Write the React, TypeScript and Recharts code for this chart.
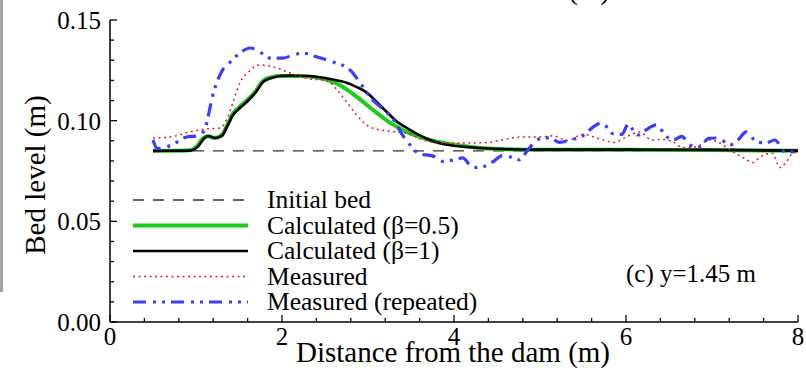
import React from "react";
import { CartesianGrid, Customized, Line, LineChart, XAxis, YAxis } from "recharts";

const FONT = "Liberation Serif, DejaVu Serif, serif";

// tick positions (major ones get a label)
const xTicks = [0, 0.4, 0.8, 1.2, 1.6, 2, 2.4, 2.8, 3.2, 3.6, 4, 4.4, 4.8, 5.2, 5.6, 6, 6.4, 6.8, 7.2, 7.6, 8];
const xMajor = [0, 2, 4, 6, 8];
const yTicks = [0, 0.01, 0.02, 0.03, 0.04, 0.05, 0.06, 0.07, 0.08, 0.09, 0.1, 0.11, 0.12, 0.13, 0.14, 0.15];
const yMajor = [0, 0.05, 0.1, 0.15];

// initial bed
const bedX = [0.5, 8];
const bedY = [0.085, 0.085];

// calculated, beta = 0.5
const calcHalfX = [0.5, 0.9, 1.0, 1.08, 1.14, 1.22, 1.3, 1.36, 1.43, 1.51, 1.59, 1.69, 1.78, 1.88, 1.98, 2.1, 2.3, 2.5, 2.67, 2.87, 3.06, 3.26, 3.45, 3.72, 4.03, 4.4, 5.0, 6.0, 7.0, 8.0];
const calcHalfY = [0.085, 0.0852, 0.0868, 0.0912, 0.0922, 0.0914, 0.0928, 0.0975, 0.1035, 0.107, 0.11, 0.1145, 0.1198, 0.1216, 0.1222, 0.1222, 0.122, 0.1205, 0.1177, 0.1118, 0.1053, 0.0989, 0.0944, 0.0904, 0.0879, 0.0862, 0.0855, 0.0855, 0.0854, 0.0851];

// calculated, beta = 1
const calcOneX = [0.5, 0.93, 1.02, 1.1, 1.14, 1.22, 1.3, 1.36, 1.43, 1.51, 1.59, 1.69, 1.78, 1.88, 1.98, 2.1, 2.3, 2.56, 2.76, 2.87, 2.99, 3.1, 3.22, 3.34, 3.45, 3.57, 3.72, 3.87, 4.03, 4.4, 5.0, 6.0, 7.0, 8.0];
const calcOneY = [0.085, 0.0851, 0.087, 0.0914, 0.0924, 0.0914, 0.0924, 0.0969, 0.1028, 0.1063, 0.1093, 0.1138, 0.1192, 0.1212, 0.1222, 0.1224, 0.1222, 0.1207, 0.1187, 0.1167, 0.1138, 0.1093, 0.1043, 0.0994, 0.0964, 0.0934, 0.0904, 0.0884, 0.0874, 0.0862, 0.0856, 0.0856, 0.0855, 0.0851];

// measured
const measX = [0.5, 0.7, 0.93, 1.12, 1.28, 1.37, 1.45, 1.51, 1.61, 1.74, 1.9, 2.09, 2.33, 2.52, 2.64, 2.76, 2.87, 3.02, 3.22, 3.45, 3.64, 3.87, 4.15, 4.38, 4.55, 4.78, 5.0, 5.15, 5.32, 5.5, 5.7, 5.86, 6.03, 6.16, 6.3, 6.45, 6.55, 6.66, 6.83, 6.96, 7.09, 7.21, 7.36, 7.48, 7.56, 7.7, 7.79, 7.87, 7.95, 8.0];
const measY = [0.0914, 0.0919, 0.0944, 0.0959, 0.0964, 0.1018, 0.1118, 0.1187, 0.1242, 0.1277, 0.1267, 0.1238, 0.1207, 0.12, 0.1153, 0.1088, 0.1028, 0.0969, 0.0949, 0.0939, 0.0904, 0.0889, 0.0889, 0.0891, 0.0904, 0.0919, 0.0919, 0.0925, 0.0902, 0.0932, 0.0908, 0.0892, 0.0925, 0.0944, 0.0904, 0.0906, 0.0894, 0.0866, 0.0872, 0.0904, 0.0889, 0.0854, 0.0817, 0.0792, 0.082, 0.0838, 0.0767, 0.0798, 0.0843, 0.083];

// measured, repeated run
const repX = [0.5, 0.55, 0.66, 0.78, 0.89, 1.01, 1.1, 1.14, 1.19, 1.24, 1.31, 1.4, 1.51, 1.63, 1.71, 1.86, 2.01, 2.13, 2.24, 2.41, 2.59, 2.79, 2.91, 3.02, 3.17, 3.3, 3.4, 3.49, 3.6, 3.75, 3.87, 4.0, 4.1, 4.22, 4.34, 4.45, 4.57, 4.69, 4.76, 4.85, 4.92, 5.03, 5.12, 5.23, 5.35, 5.5, 5.62, 5.72, 5.85, 5.95, 6.03, 6.08, 6.14, 6.26, 6.36, 6.45, 6.55, 6.65, 6.74, 6.86, 6.96, 7.07, 7.21, 7.3, 7.4, 7.52, 7.63, 7.73, 7.85, 7.93, 8.0];
const repY = [0.0904, 0.0862, 0.087, 0.0894, 0.0919, 0.0924, 0.0954, 0.1018, 0.1118, 0.1187, 0.1252, 0.1292, 0.1336, 0.1361, 0.1351, 0.1311, 0.1311, 0.1326, 0.1336, 0.1316, 0.1292, 0.1252, 0.1187, 0.1118, 0.1058, 0.1003, 0.0929, 0.0879, 0.0835, 0.0825, 0.0798, 0.0805, 0.0815, 0.0767, 0.0772, 0.0795, 0.0828, 0.0815, 0.0805, 0.085, 0.0885, 0.0915, 0.0914, 0.0892, 0.0904, 0.0925, 0.0969, 0.0989, 0.0935, 0.0932, 0.0985, 0.0955, 0.0929, 0.0962, 0.098, 0.093, 0.0904, 0.0922, 0.0879, 0.0869, 0.0912, 0.0914, 0.0879, 0.0904, 0.0944, 0.0894, 0.089, 0.0904, 0.0845, 0.0845, 0.0848];

const toPoints = (xs: number[], ys: number[]) => xs.map((x, i) => ({ x, y: ys[i] }));

const isMajor = (list: number[], v: number) => list.some((m) => Math.abs(m - v) < 1e-6);

const series = [
  { name: "Initial bed", data: toPoints(bedX, bedY), stroke: "#333", width: 1.3, dash: "11 9" },
  { name: "Calculated (β=0.5)", data: toPoints(calcHalfX, calcHalfY), stroke: "#1ecc1e", width: 4, dash: undefined },
  { name: "Calculated (β=1)", data: toPoints(calcOneX, calcOneY), stroke: "#000", width: 2.6, dash: undefined },
  { name: "Measured", data: toPoints(measX, measY), stroke: "#e02020", width: 1.5, dash: "2 3.5" },
  { name: "Measured (repeated)", data: toPoints(repX, repY), stroke: "#3a3cff", width: 3.2, dash: "13 7 3 6 3 6" },
];

function XTick({ x, y, payload }: any) {
  const major = isMajor(xMajor, payload.value);
  return (
    <g>
      <line x1={x} x2={x} y1={y} y2={y - (major ? 7 : 4)} stroke="#000" strokeWidth={1.3} />
      {major && (
        <text x={x} y={y + 23} textAnchor="middle" style={{ fontFamily: FONT }} fontSize={25} fill="#000">
          {payload.value}
        </text>
      )}
    </g>
  );
}

function YTick({ x, y, payload }: any) {
  const major = isMajor(yMajor, payload.value);
  return (
    <g>
      <line x1={x} x2={x + (major ? 7 : 4)} y1={y} y2={y} stroke="#000" strokeWidth={1.3} />
      {major && (
        <text x={x - 9} y={y + 9} textAnchor="end" style={{ fontFamily: FONT }} fontSize={25} fill="#000">
          {payload.value.toFixed(2)}
        </text>
      )}
    </g>
  );
}

// legend, axis titles and panel note drawn straight into the svg
function Annotations() {
  const rowY = [200, 225.5, 251, 276.5, 302];
  return (
    <g style={{ fontFamily: FONT }} fill="#000">
      <rect x={0} y={0} width={3} height={292} fill="#a4a4a4" />
      <text x={453} y={-1} textAnchor="middle" fontSize={29}>
        Distance from the dam (m)
      </text>
      <text x={453} y={362} textAnchor="middle" fontSize={29}>
        Distance from the dam (m)
      </text>
      <text transform="translate(45,175) rotate(-90)" textAnchor="middle" fontSize={29}>
        Bed level (m)
      </text>
      <text x={626} y={282} fontSize={25}>
        (c) y=1.45 m
      </text>
      {series.map((s, i) => (
        <g key={s.name}>
          <line
            x1={133}
            x2={248}
            y1={rowY[i]}
            y2={rowY[i]}
            stroke={s.stroke}
            strokeWidth={s.width}
            strokeDasharray={s.dash}
          />
          <text x={267} y={rowY[i] + 8} fontSize={25.5}>
            {s.name}
          </text>
        </g>
      ))}
    </g>
  );
}

export default function App() {
  return (
    <div style={{ position: "absolute", left: 0, top: 0, width: 806, height: 371, background: "#fff" }}>
      <LineChart width={806} height={371} margin={{ top: 20, right: 8, bottom: 0, left: 0 }}>
        <CartesianGrid horizontal={false} vertical={false} />
        <XAxis
          type="number"
          dataKey="x"
          domain={[0, 8]}
          ticks={xTicks}
          interval={0}
          height={49}
          tickSize={0}
          tickMargin={0}
          tickLine={false}
          tick={<XTick />}
          axisLine={{ stroke: "#000", strokeWidth: 1.5 }}
          allowDataOverflow
        />
        <YAxis
          type="number"
          dataKey="y"
          domain={[0, 0.15]}
          ticks={yTicks}
          interval={0}
          width={110}
          tickSize={0}
          tickMargin={0}
          tickLine={false}
          tick={<YTick />}
          axisLine={{ stroke: "#000", strokeWidth: 1.5 }}
          allowDataOverflow
        />
        {series.map((s) => (
          <Line
            key={s.name}
            data={s.data}
            dataKey="y"
            type="monotone"
            stroke={s.stroke}
            strokeWidth={s.width}
            strokeDasharray={s.dash}
            dot={false}
            activeDot={false}
            isAnimationActive={false}
          />
        ))}
        <Customized component={Annotations} />
      </LineChart>
    </div>
  );
}
